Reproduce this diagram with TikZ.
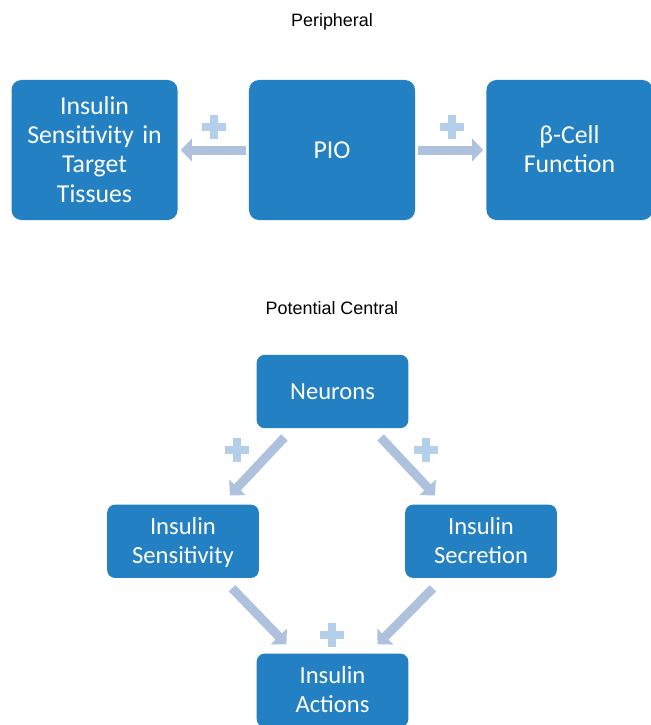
\documentclass[tikz,border=0pt]{standalone}
\usepackage{fontspec}
\setmainfont{Carlito}
\newfontfamily\titlefont{Liberation Sans}
\usetikzlibrary{arrows.meta, positioning, calc}
\definecolor{boxblue}{HTML}{2381C3}
\definecolor{arrowgrey}{HTML}{AEC2DE}
\definecolor{plusblue}{HTML}{B3CFEA}
% invisible rules so that every box text is centred on its capitals
\newcommand\topstrut{\rule{0pt}{0.945em}}
\newcommand\botstrut{\rule[-0.3em]{0pt}{0.3em}}

\begin{document}
\begin{tikzpicture}[x=0.03cm, y=-0.03cm,
  bigbox/.style={fill=boxblue, rounded corners=0.3cm, minimum width=4.98cm, minimum height=4.2cm,
    text width=4.8cm, align=center, text=white, inner sep=0pt, font=\fontsize{22}{25}\selectfont,
    execute at begin node=\topstrut, execute at end node=\botstrut},
  smallbox/.style={fill=boxblue, rounded corners=0.24cm, minimum width=4.55cm, minimum height=2.2cm,
    text width=4.4cm, align=center, text=white, inner sep=0pt, font=\fontsize{21}{24.5}\selectfont,
    execute at begin node=\topstrut, execute at end node=\botstrut},
  heading/.style={font=\titlefont\fontsize{15.3}{18}\selectfont},
  fatarrow/.style={draw=arrowgrey, line width=0.27cm, -{Triangle[width=0.66cm, length=0.33cm]}},
  plussign/.pic={\fill[plusblue] (-12,-4) rectangle (12,4); \fill[plusblue] (-4,-12) rectangle (4,12);}]
  \useasboundingbox (0,0) rectangle (651,725);

  % peripheral row
  \node[heading] (peri) at (332,22) {Peripheral};
  \node[bigbox] (pio) at (332,150) {PIO};
  \node[bigbox, left=2.13cm of pio] (ins) {Insulin\\Sensitivity in\\Target\\Tissues};
  \node[bigbox, right=2.13cm of pio] (beta) {β-Cell\\Function};
  \draw[fatarrow] ($(pio.west)+(-3,0)$) -- ($(ins.east)+(3,0)$);
  \draw[fatarrow] ($(pio.east)+(3,0)$) -- ($(beta.west)+(-3,0)$);
  \pic at (214,127) {plussign};
  \pic at (452,127) {plussign};

  % central part
  \node[heading] (cent) at (332,308) {Potential Central};
  \node[smallbox] (neu) at (332.5,391.5) {Neurons};
  \node[smallbox, below=2.28cm of neu, xshift=-4.485cm] (sens) {Insulin\\Sensitivity};
  \node[smallbox, below=2.28cm of neu, xshift=4.455cm] (secr) {Insulin\\Secretion};
  \node[smallbox, below=6.75cm of neu] (act) {Insulin\\Actions};
  \draw[fatarrow] ($(neu.south west)+(28,9)$) -- ($(sens.north west)+(123,-9)$);
  \draw[fatarrow] ($(neu.south east)+(-28,9)$) -- ($(secr.north east)+(-122,-9)$);
  \draw[fatarrow] ($(sens.south east)+(-27,10)$) -- ($(act.north west)+(30,-9)$);
  \draw[fatarrow] ($(secr.south west)+(28,10)$) -- ($(act.north east)+(-31,-9)$);
  \pic at (237,450) {plussign};
  \pic at (426,450) {plussign};
  \pic at (332,635) {plussign};
\end{tikzpicture}
\end{document}
